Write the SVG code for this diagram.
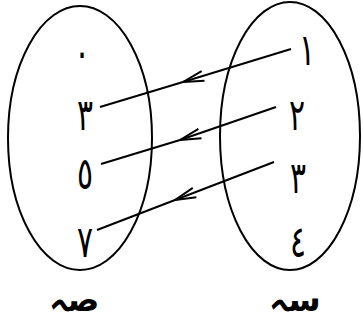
<svg xmlns="http://www.w3.org/2000/svg" width="363" height="328" viewBox="0 0 363 328">
<style>
.set{fill:none;stroke:#000;stroke-width:2}
.lbl{font-family:"DejaVu Sans","Noto Sans",sans-serif;font-size:44px;fill:#000;text-anchor:middle}
.name{font-family:"DejaVu Sans","Noto Sans",sans-serif;font-size:33px;font-weight:bold;fill:#000;text-anchor:middle}
.conn{fill:none;stroke:#000;stroke-width:2;marker-mid:url(#arr)}
</style>
<defs>
<marker id="arr" markerUnits="userSpaceOnUse" markerWidth="30" markerHeight="20" viewBox="-25 -10 30 20" refX="0" refY="0" orient="auto" overflow="visible">
<path d="M -21 -5 L 0 0 L -21 5" fill="none" stroke="#000" stroke-width="2"/>
</marker>
</defs>
<g id="setY">
<ellipse class="set" cx="80" cy="138" rx="72" ry="132"/>
<text class="lbl" transform="translate(82,68) scale(0.68,1)">٠</text>
<text class="lbl" transform="translate(85,130) scale(0.68,1)">٣</text>
<text class="lbl" transform="translate(85,189) scale(0.68,1)">٥</text>
<text class="lbl" transform="translate(85,257) scale(0.68,1)">٧</text>
<text class="name" x="74" y="311">صہ</text>
</g>
<g id="setX">
<ellipse class="set" cx="290" cy="136" rx="70" ry="134"/>
<text class="lbl" transform="translate(307,65) scale(0.68,1)">١</text>
<text class="lbl" transform="translate(297,130) scale(0.68,1)">٢</text>
<text class="lbl" transform="translate(298,193) scale(0.68,1)">٣</text>
<text class="lbl" transform="translate(298,257) scale(0.68,1)">٤</text>
<text class="name" x="295" y="311">سہ</text>
</g>
<g id="connectors">
<path class="conn" d="M 291 49 L 183 82 L 100 107"/>
<path class="conn" d="M 276 107 L 180 140 L 101 164"/>
<path class="conn" d="M 274 162 L 175 200 L 97 230"/>
</g>
</svg>
